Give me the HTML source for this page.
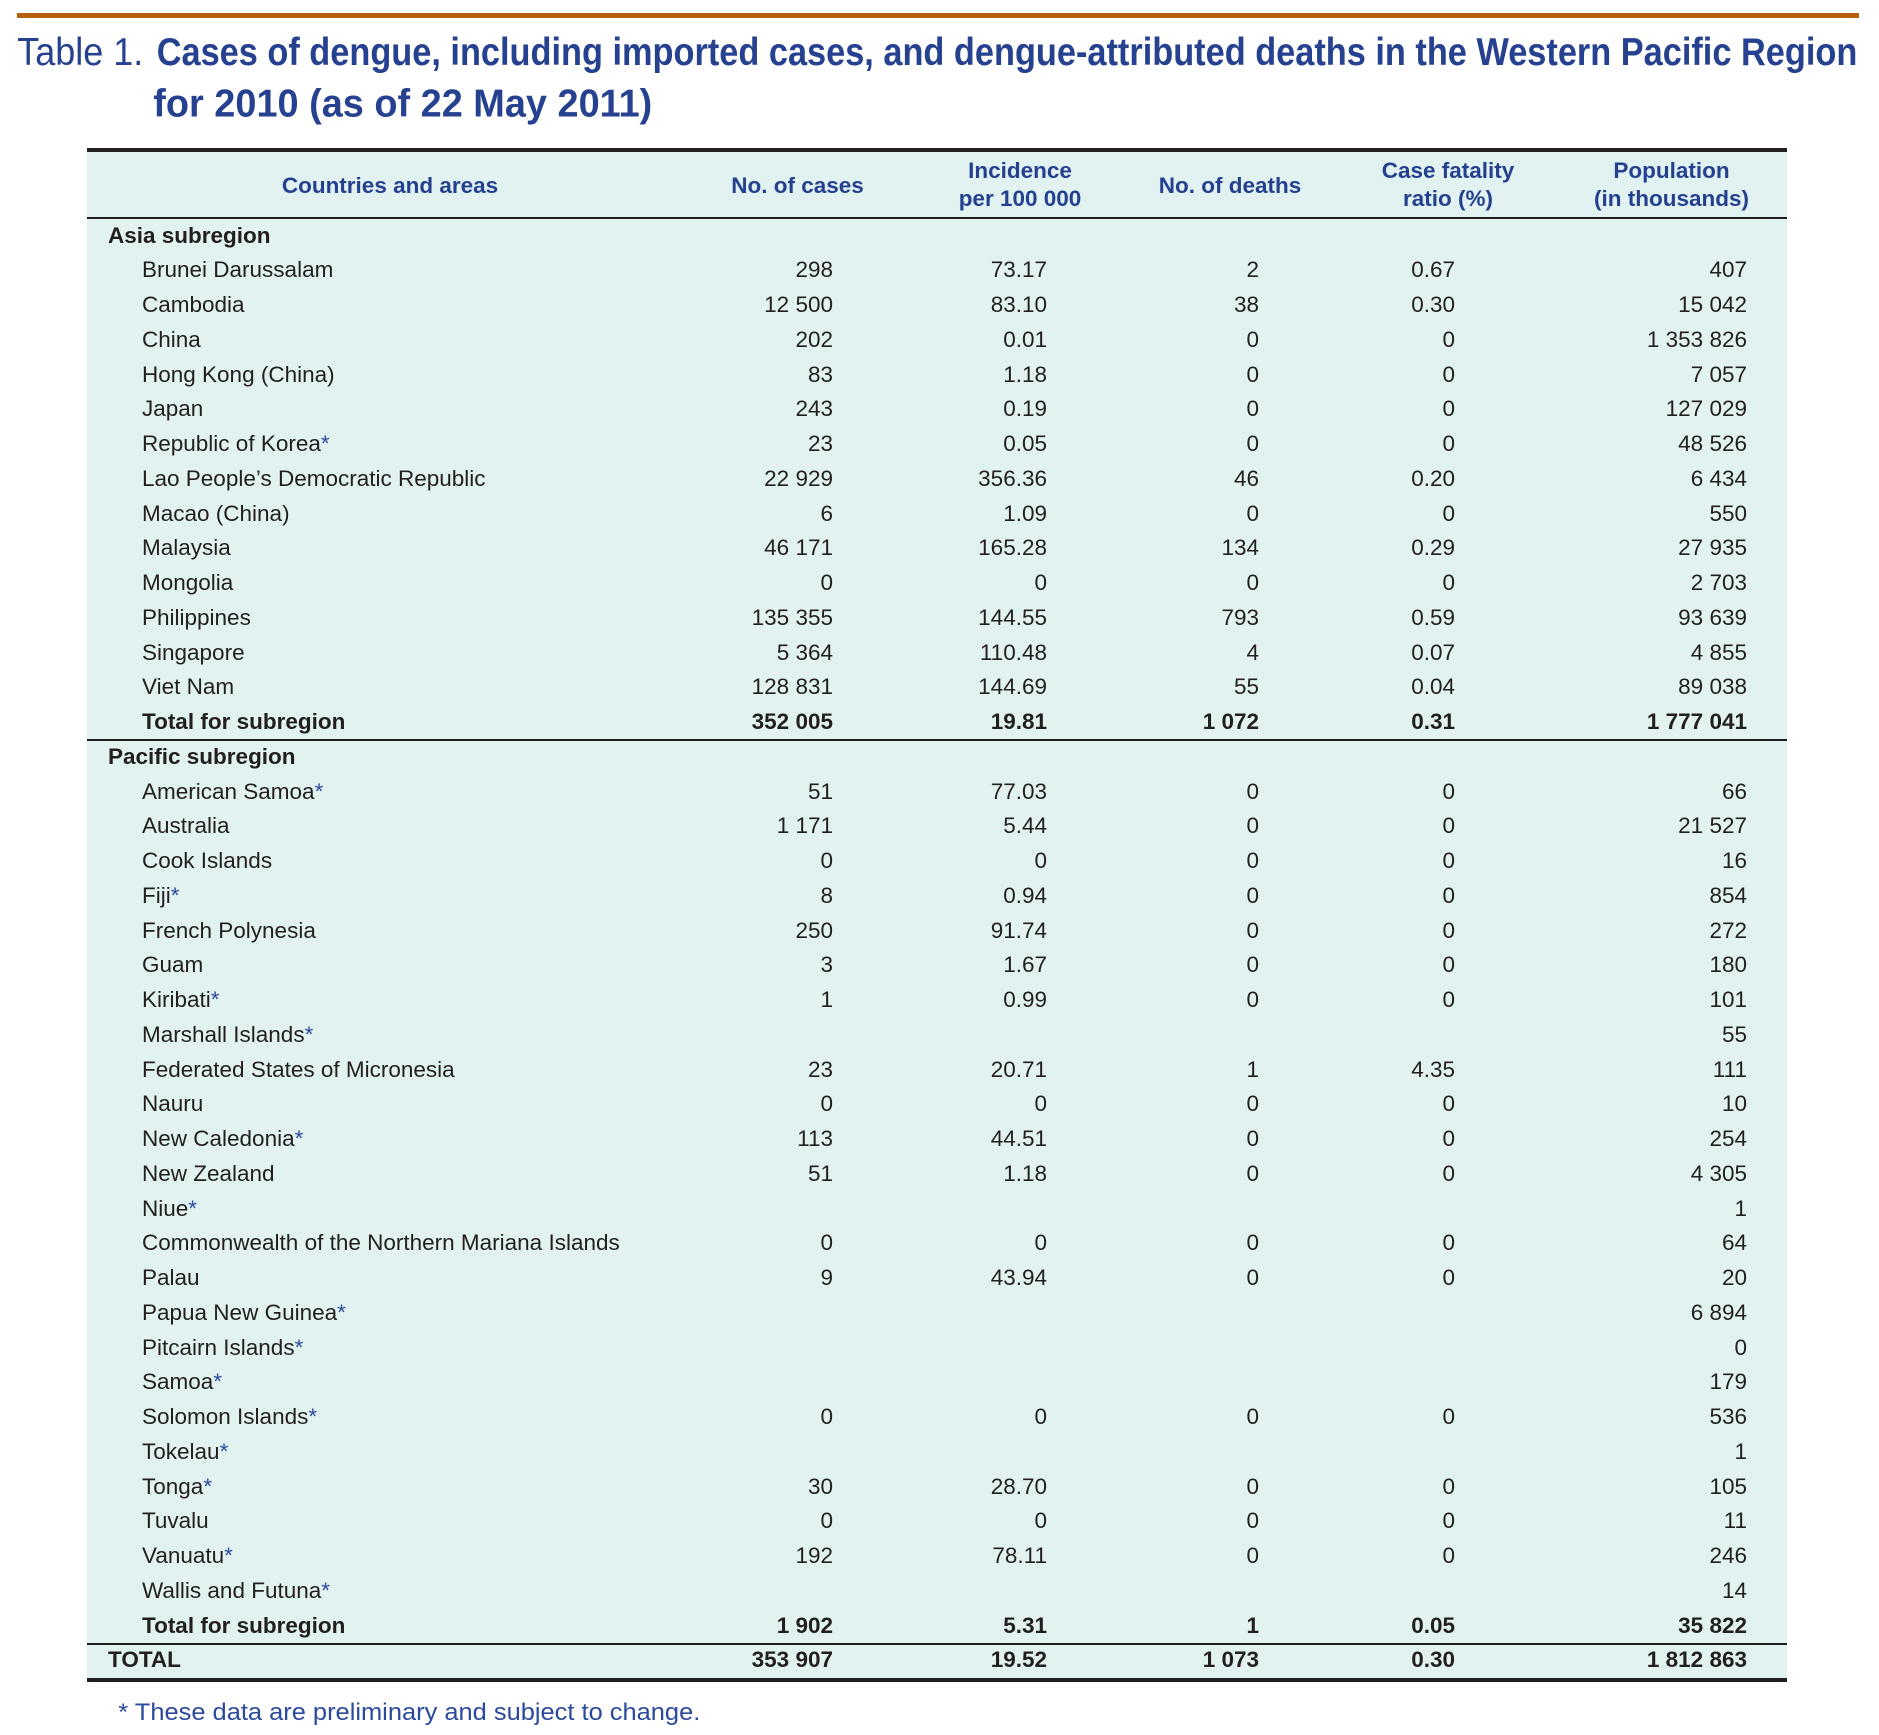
<!DOCTYPE html>
<html>
<head>
<meta charset="utf-8">
<style>
  html, body { margin:0; padding:0; background:#ffffff; }
  body { width:1879px; height:1735px; position:relative; overflow:hidden;
         font-family:"Liberation Sans", Arial, sans-serif; }
  .bar { position:absolute; left:17px; top:13px; width:1842px; height:5px; background:#b6600f; }
  .tbg { position:absolute; left:87px; top:150px; width:1700px; height:1530px; background:#e1f2f1; }
  .ln { position:absolute; left:87px; width:1700px; background:#231f20; }
  .hd { position:absolute; width:320px; text-align:center; font-weight:bold; font-size:22.5px;
        line-height:27.7px; color:#24408f; white-space:nowrap; }
  .rows { position:absolute; left:0; top:218.6px; width:1879px; }
  .r { position:relative; height:34.75px; line-height:34.75px; font-size:22.5px; color:#231f20; white-space:nowrap; }
  .r span { position:absolute; top:0; }
  .r .n { left:142px; }
  .r .h { left:108px; }
  .r .c1 { right:1046px; }
  .r .c2 { right:832px; }
  .r .c3 { right:620px; }
  .r .c4 { right:424px; }
  .r .c5 { right:132px; }
  .b { font-weight:bold; }
  .s { color:#2c4a9c; }
</style>
</head>
<body>
<div class="bar"></div>

<svg style="position:absolute;left:0;top:0" width="1879" height="140" xmlns="http://www.w3.org/2000/svg">
  <text x="17.3" y="65" font-family="Liberation Sans, Arial, sans-serif" font-size="38.5" fill="#25418f" textLength="126" lengthAdjust="spacingAndGlyphs">Table 1.</text>
  <text x="156.7" y="65" font-family="Liberation Sans, Arial, sans-serif" font-size="38.5" font-weight="bold" fill="#25418f" textLength="1700.6" lengthAdjust="spacingAndGlyphs">Cases of dengue, including imported cases, and dengue-attributed deaths in the Western Pacific Region</text>
  <text x="153.3" y="116.7" font-family="Liberation Sans, Arial, sans-serif" font-size="38.5" font-weight="bold" fill="#25418f" textLength="499" lengthAdjust="spacingAndGlyphs">for 2010 (as of 22 May 2011)</text>
</svg>

<div class="tbg"></div>
<div class="ln" style="top:148px;height:4px"></div>
<div class="ln" style="top:217px;height:2px"></div>
<div class="ln" style="top:739px;height:2px"></div>
<div class="ln" style="top:1643px;height:2px"></div>
<div class="ln" style="top:1678px;height:4px"></div>

<div class="hd" style="left:230px;top:171.6px">Countries and areas</div>
<div class="hd" style="left:637.5px;top:171.6px">No. of cases</div>
<div class="hd" style="left:860px;top:157.3px">Incidence<br>per 100 000</div>
<div class="hd" style="left:1070px;top:171.6px">No. of deaths</div>
<div class="hd" style="left:1288px;top:157.3px">Case fatality<br>ratio (%)</div>
<div class="hd" style="left:1511.5px;top:157.3px">Population<br>(in thousands)</div>

<div class="rows">
  <div class="r b"><span class="h">Asia subregion</span></div>
  <div class="r"><span class="n">Brunei Darussalam</span><span class="c1">298</span><span class="c2">73.17</span><span class="c3">2</span><span class="c4">0.67</span><span class="c5">407</span></div>
  <div class="r"><span class="n">Cambodia</span><span class="c1">12 500</span><span class="c2">83.10</span><span class="c3">38</span><span class="c4">0.30</span><span class="c5">15 042</span></div>
  <div class="r"><span class="n">China</span><span class="c1">202</span><span class="c2">0.01</span><span class="c3">0</span><span class="c4">0</span><span class="c5">1 353 826</span></div>
  <div class="r"><span class="n">Hong Kong (China)</span><span class="c1">83</span><span class="c2">1.18</span><span class="c3">0</span><span class="c4">0</span><span class="c5">7 057</span></div>
  <div class="r"><span class="n">Japan</span><span class="c1">243</span><span class="c2">0.19</span><span class="c3">0</span><span class="c4">0</span><span class="c5">127 029</span></div>
  <div class="r"><span class="n">Republic of Korea<i class="s" style="font-style:normal">*</i></span><span class="c1">23</span><span class="c2">0.05</span><span class="c3">0</span><span class="c4">0</span><span class="c5">48 526</span></div>
  <div class="r"><span class="n">Lao People’s Democratic Republic</span><span class="c1">22 929</span><span class="c2">356.36</span><span class="c3">46</span><span class="c4">0.20</span><span class="c5">6 434</span></div>
  <div class="r"><span class="n">Macao (China)</span><span class="c1">6</span><span class="c2">1.09</span><span class="c3">0</span><span class="c4">0</span><span class="c5">550</span></div>
  <div class="r"><span class="n">Malaysia</span><span class="c1">46 171</span><span class="c2">165.28</span><span class="c3">134</span><span class="c4">0.29</span><span class="c5">27 935</span></div>
  <div class="r"><span class="n">Mongolia</span><span class="c1">0</span><span class="c2">0</span><span class="c3">0</span><span class="c4">0</span><span class="c5">2 703</span></div>
  <div class="r"><span class="n">Philippines</span><span class="c1">135 355</span><span class="c2">144.55</span><span class="c3">793</span><span class="c4">0.59</span><span class="c5">93 639</span></div>
  <div class="r"><span class="n">Singapore</span><span class="c1">5 364</span><span class="c2">110.48</span><span class="c3">4</span><span class="c4">0.07</span><span class="c5">4 855</span></div>
  <div class="r"><span class="n">Viet Nam</span><span class="c1">128 831</span><span class="c2">144.69</span><span class="c3">55</span><span class="c4">0.04</span><span class="c5">89 038</span></div>
  <div class="r b"><span class="n">Total for subregion</span><span class="c1">352 005</span><span class="c2">19.81</span><span class="c3">1 072</span><span class="c4">0.31</span><span class="c5">1 777 041</span></div>

  <div class="r b"><span class="h">Pacific subregion</span></div>
  <div class="r"><span class="n">American Samoa<i class="s" style="font-style:normal">*</i></span><span class="c1">51</span><span class="c2">77.03</span><span class="c3">0</span><span class="c4">0</span><span class="c5">66</span></div>
  <div class="r"><span class="n">Australia</span><span class="c1">1 171</span><span class="c2">5.44</span><span class="c3">0</span><span class="c4">0</span><span class="c5">21 527</span></div>
  <div class="r"><span class="n">Cook Islands</span><span class="c1">0</span><span class="c2">0</span><span class="c3">0</span><span class="c4">0</span><span class="c5">16</span></div>
  <div class="r"><span class="n">Fiji<i class="s" style="font-style:normal">*</i></span><span class="c1">8</span><span class="c2">0.94</span><span class="c3">0</span><span class="c4">0</span><span class="c5">854</span></div>
  <div class="r"><span class="n">French Polynesia</span><span class="c1">250</span><span class="c2">91.74</span><span class="c3">0</span><span class="c4">0</span><span class="c5">272</span></div>
  <div class="r"><span class="n">Guam</span><span class="c1">3</span><span class="c2">1.67</span><span class="c3">0</span><span class="c4">0</span><span class="c5">180</span></div>
  <div class="r"><span class="n">Kiribati<i class="s" style="font-style:normal">*</i></span><span class="c1">1</span><span class="c2">0.99</span><span class="c3">0</span><span class="c4">0</span><span class="c5">101</span></div>
  <div class="r"><span class="n">Marshall Islands<i class="s" style="font-style:normal">*</i></span><span class="c5">55</span></div>
  <div class="r"><span class="n">Federated States of Micronesia</span><span class="c1">23</span><span class="c2">20.71</span><span class="c3">1</span><span class="c4">4.35</span><span class="c5">111</span></div>
  <div class="r"><span class="n">Nauru</span><span class="c1">0</span><span class="c2">0</span><span class="c3">0</span><span class="c4">0</span><span class="c5">10</span></div>
  <div class="r"><span class="n">New Caledonia<i class="s" style="font-style:normal">*</i></span><span class="c1">113</span><span class="c2">44.51</span><span class="c3">0</span><span class="c4">0</span><span class="c5">254</span></div>
  <div class="r"><span class="n">New Zealand</span><span class="c1">51</span><span class="c2">1.18</span><span class="c3">0</span><span class="c4">0</span><span class="c5">4 305</span></div>
  <div class="r"><span class="n">Niue<i class="s" style="font-style:normal">*</i></span><span class="c5">1</span></div>
  <div class="r"><span class="n">Commonwealth of the Northern Mariana Islands</span><span class="c1">0</span><span class="c2">0</span><span class="c3">0</span><span class="c4">0</span><span class="c5">64</span></div>
  <div class="r"><span class="n">Palau</span><span class="c1">9</span><span class="c2">43.94</span><span class="c3">0</span><span class="c4">0</span><span class="c5">20</span></div>
  <div class="r"><span class="n">Papua New Guinea<i class="s" style="font-style:normal">*</i></span><span class="c5">6 894</span></div>
  <div class="r"><span class="n">Pitcairn Islands<i class="s" style="font-style:normal">*</i></span><span class="c5">0</span></div>
  <div class="r"><span class="n">Samoa<i class="s" style="font-style:normal">*</i></span><span class="c5">179</span></div>
  <div class="r"><span class="n">Solomon Islands<i class="s" style="font-style:normal">*</i></span><span class="c1">0</span><span class="c2">0</span><span class="c3">0</span><span class="c4">0</span><span class="c5">536</span></div>
  <div class="r"><span class="n">Tokelau<i class="s" style="font-style:normal">*</i></span><span class="c5">1</span></div>
  <div class="r"><span class="n">Tonga<i class="s" style="font-style:normal">*</i></span><span class="c1">30</span><span class="c2">28.70</span><span class="c3">0</span><span class="c4">0</span><span class="c5">105</span></div>
  <div class="r"><span class="n">Tuvalu</span><span class="c1">0</span><span class="c2">0</span><span class="c3">0</span><span class="c4">0</span><span class="c5">11</span></div>
  <div class="r"><span class="n">Vanuatu<i class="s" style="font-style:normal">*</i></span><span class="c1">192</span><span class="c2">78.11</span><span class="c3">0</span><span class="c4">0</span><span class="c5">246</span></div>
  <div class="r"><span class="n">Wallis and Futuna<i class="s" style="font-style:normal">*</i></span><span class="c5">14</span></div>
  <div class="r b"><span class="n">Total for subregion</span><span class="c1">1 902</span><span class="c2">5.31</span><span class="c3">1</span><span class="c4">0.05</span><span class="c5">35 822</span></div>
  <div class="r b"><span class="h">TOTAL</span><span class="c1">353 907</span><span class="c2">19.52</span><span class="c3">1 073</span><span class="c4">0.30</span><span class="c5">1 812 863</span></div>
</div>

<svg style="position:absolute;left:0;top:1690px" width="1879" height="45" xmlns="http://www.w3.org/2000/svg">
  <text x="118.3" y="30" font-family="Liberation Sans, Arial, sans-serif" font-size="24.5" fill="#2c4a9c" textLength="582" lengthAdjust="spacingAndGlyphs">* These data are preliminary and subject to change.</text>
</svg>
</body>
</html>
